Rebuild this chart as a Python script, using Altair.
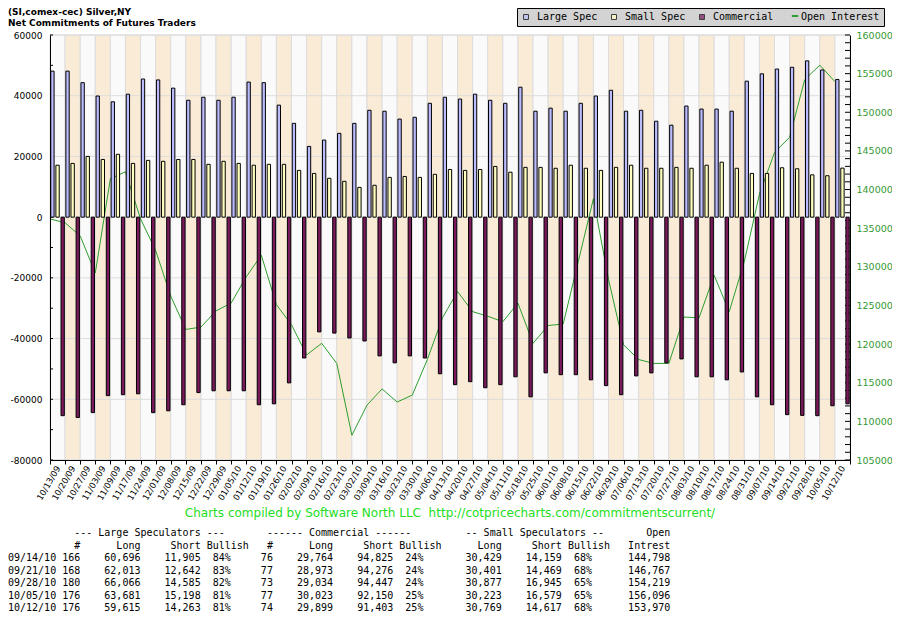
import altair as alt
import pandas as pd

weeks = ["10/13/09", "10/20/09", "10/27/09", "11/03/09", "11/09/09", "11/17/09", "11/24/09",
         "12/01/09", "12/08/09", "12/15/09", "12/22/09", "12/29/09", "01/05/10", "01/12/10",
         "01/19/10", "01/26/10", "02/02/10", "02/09/10", "02/16/10", "02/23/10", "03/02/10",
         "03/09/10", "03/16/10", "03/23/10", "03/30/10", "04/06/10", "04/13/10", "04/20/10",
         "04/27/10", "05/04/10", "05/11/10", "05/18/10", "05/25/10", "06/01/10", "06/08/10",
         "06/15/10", "06/22/10", "06/29/10", "07/06/10", "07/13/10", "07/20/10", "07/27/10",
         "08/03/10", "08/10/10", "08/17/10", "08/24/10", "08/31/10", "09/07/10", "09/14/10",
         "09/21/10", "09/28/10", "10/05/10", "10/12/10"]

large_spec = [48100, 48100, 44300, 39900, 38000, 40500, 45500, 45200, 42500, 38500,
              39500, 38500, 39500, 44500, 44300, 36900, 30900, 23300, 25400, 27600,
              30900, 35200, 34900, 32300, 32900, 37500, 39500, 38900, 40500, 38500,
              37500, 42800, 34900, 35900, 34900, 37500, 39900, 41800, 34900, 35200,
              31600, 30300, 36600, 35600, 35600, 34900, 44800, 47200, 48791, 49371,
              51481, 48483, 45352]

small_spec = [17100, 17700, 20000, 19000, 20700, 17700, 18700, 18400, 19000, 19000,
              17400, 18400, 17700, 17100, 17400, 17400, 15400, 14400, 12800, 11800,
              9800, 10500, 13100, 13400, 13100, 14100, 15700, 15400, 15700, 16700,
              14800, 16400, 16400, 16100, 17100, 16100, 15400, 16400, 17100, 16100,
              16100, 16400, 16100, 17100, 18100, 16100, 14400, 14400, 16270, 15932,
              13932, 13644, 16152]

commercial = [-65400, -66000, -64400, -58800, -58500, -58200, -64400, -63800, -61800, -57800,
              -57200, -57200, -57200, -61800, -61500, -54600, -46400, -37800, -38200, -39800,
              -40800, -45700, -48000, -45700, -46400, -51600, -55200, -54200, -56200, -55200,
              -52600, -59200, -51300, -51900, -51900, -53600, -55500, -58500, -52300, -51300,
              -48000, -46700, -52600, -52600, -53600, -51000, -59200, -61800, -65061, -65303,
              -65413, -62127, -61504]

open_interest = [136200, 135700, 134000, 129200, 141400, 142300, 136200, 132100, 126200, 121900,
                 122200, 124300, 125300, 128700, 131500, 125100, 122500, 118600, 120100, 117500,
                 108200, 112100, 114200, 112500, 113400, 118000, 123400, 126800, 124200, 123600,
                 122900, 125300, 120100, 122400, 122600, 130700, 138800, 128400, 119900, 118000,
                 117500, 117500, 123500, 123400, 128900, 124200, 130700, 139400, 144798, 146767,
                 154219, 156096, 153970]

series_names = ["Large Spec", "Small Spec", "Commercial", "Open Interest"]
series_colors = ["#BBBBFF", "#FFFFC0", "#7A1A5C", "#2E9E2E"]
series_shapes = ["square", "square", "square", "M0,0"]
oi_name = ["Open Interest"]
oi_color = ["#2E9E2E"]

left_labels = [60000, 40000, 20000, 0, -20000, -40000, -60000, -80000]
left_ticks = list(range(-80000, 60001, 10000))
right_labels = list(range(105000, 160001, 5000))
right_ticks = list(range(105000, 160001, 1000))

title_lines = ["(SI,comex-cec) Silver,NY", "Net Commitments of Futures Traders"]
credit = "Charts compiled by Software North LLC  http://cotpricecharts.com/commitmentscurrent/"

tbl_dates = ["09/14/10", "09/21/10", "09/28/10", "10/05/10", "10/12/10"]
ls_n = [166, 168, 180, 176, 176]
ls_long = [60696, 62013, 66066, 63681, 59615]
ls_short = [11905, 12642, 14585, 15198, 14263]
ls_bull = [84, 83, 82, 81, 81]
c_n = [76, 77, 73, 77, 74]
c_long = [29764, 28973, 29034, 30023, 29899]
c_short = [94825, 94276, 94447, 92150, 91403]
c_bull = [24, 24, 24, 25, 25]
s_long = [30429, 30401, 30877, 30223, 30769]
s_short = [14159, 14469, 16945, 16579, 14617]
s_bull = [68, 68, 65, 65, 68]
oi_tbl = [144798, 146767, 154219, 156096, 153970]


def place(items, width=110):
    row = [" "] * width
    for col, s in items:
        for i, ch in enumerate(s):
            row[col + i] = ch
    return "".join(row).rstrip()


table_lines = [
    place([(11, "--- Large Speculators ---"), (43, "------ Commercial ------"),
           (76, "-- Small Speculators --"), (106, "Open")]),
    place([(11, "#"), (18, "Long"), (27, "Short"), (33, "Bullish"), (43, "#"), (50, "Long"),
           (59, "Short"), (65, "Bullish"), (78, "Long"), (87, "Short"), (93, "Bullish"),
           (103, "Intrest")]),
]
for i in range(len(tbl_dates)):
    table_lines.append(
        f"{tbl_dates[i]} {ls_n[i]:>3}    {ls_long[i]:>6,}    {ls_short[i]:>6,}  {str(ls_bull[i]) + '%':>3}"
        f"     {c_n[i]:>2}    {c_long[i]:>6,}    {c_short[i]:>6,}  {str(c_bull[i]) + '%':>3}"
        f"       {s_long[i]:>6,}    {s_short[i]:>6,}  {str(s_bull[i]) + '%':>3}      {oi_tbl[i]:>7,}"
    )
# keep spacing: non-breaking spaces, and a zero-width lead so leading blanks survive trimming
table_lines = ["\u200b" + t.replace(" ", "\u00a0") for t in table_lines]

W, H = 800, 425

bars_df = pd.DataFrame({
    "week": weeks * 3,
    "series": ["Large Spec"] * len(weeks) + ["Small Spec"] * len(weeks) + ["Commercial"] * len(weeks),
    "value": large_spec + small_spec + commercial,
})
oi_df = pd.DataFrame({"week": weeks, "oi": open_interest, "name": oi_name * len(weeks)})
bg_df = pd.DataFrame({"week": weeks, "band": ["even" if i % 2 == 0 else "odd" for i in range(len(weeks))]})
one = pd.DataFrame({"k": [0]})

x_scale = alt.Scale(paddingInner=0, paddingOuter=0)
x_axis = alt.Axis(title=None, labelAngle=-60, labelFont="DejaVu Sans", labelFontSize=8.5,
                  labelColor="black", tickBand="extent", tickSize=4, tickColor="black",
                  domainColor="black", labelPadding=2, grid=False, labelOverlap=False, zindex=1)
left_scale = alt.Scale(domain=[-80000, 60000], nice=False, zero=False)
right_scale = alt.Scale(domain=[105000, 160000], nice=False, zero=False)


def xenc(**kw):
    return alt.X("week:N", sort=weeks, scale=x_scale, axis=x_axis, **kw)


main_legend = alt.Legend(title=None, orient="none", legendX=467, legendY=-27,
                         direction="horizontal", fillColor="#D3D3D3", strokeColor="black",
                         padding=4, symbolSize=25, symbolStrokeColor="black", symbolStrokeWidth=1,
                         labelFont="DejaVu Sans Mono", labelFontSize=10, labelColor="black",
                         labelOffset=6, columnPadding=11, zindex=1)
color_enc = alt.Color("series:N", scale=alt.Scale(domain=series_names, range=series_colors),
                      legend=main_legend)

bg = alt.Chart(bg_df).mark_rect(stroke="#DCDCDC", strokeWidth=1).encode(
    x=xenc(),
    y=alt.value(0),
    y2=alt.value(H),
    fill=alt.Fill("band:N", scale=alt.Scale(domain=["even", "odd"], range=["#FAFAFA", "#FAEBD7"]), legend=None),
)

grid = alt.Chart(pd.DataFrame({"v": left_labels})).mark_rule(color="#DCDCDC", strokeWidth=1).encode(
    y=alt.Y("v:Q", scale=left_scale,
            axis=alt.Axis(orient="left", values=left_labels, title=None, grid=False, ticks=False,
                          tickSize=0, labelFont="DejaVu Sans", labelFontSize=9, labelColor="black",
                          labelPadding=8, domainColor="black", labelExpr="datum.value + ''", zindex=1)),
)

lticks = alt.Chart(pd.DataFrame({"v": left_ticks})).mark_rule(color="black", strokeWidth=1).encode(
    y=alt.Y("v:Q", scale=left_scale, axis=None),
    x=alt.value(0),
    x2=alt.value(3),
)

line = alt.Chart(oi_df).mark_line(strokeWidth=1).encode(
    x=xenc(bandPosition=0),
    y=alt.Y("oi:Q", scale=right_scale,
            axis=alt.Axis(orient="right", values=right_labels, title=None, grid=False, ticks=False,
                          tickSize=0, labelFont="DejaVu Sans", labelFontSize=9.5, labelColor="#339933",
                          labelPadding=6, domainColor="black", labelExpr="datum.value + ''", zindex=1)),
    stroke=alt.Stroke("name:N", scale=alt.Scale(domain=oi_name, range=oi_color),
                      legend=alt.Legend(title=None, orient="none", legendX=740, legendY=-24,
                                        symbolType="stroke", symbolStrokeWidth=2, symbolSize=40,
                                        labelExpr="''", padding=0, labelOffset=0, zindex=3)),
)

rticks = alt.Chart(pd.DataFrame({"v": right_ticks})).mark_rule(color="black", strokeWidth=1).encode(
    y=alt.Y("v:Q", scale=right_scale, axis=None),
    x=alt.value(W - 5),
    x2=alt.value(W),
)

bars = alt.Chart(bars_df).mark_bar(stroke="black", strokeWidth=1).encode(
    x=xenc(),
    xOffset=alt.XOffset("series:N", scale=alt.Scale(domain=series_names[:3], paddingInner=0.35, paddingOuter=0.15)),
    y=alt.Y("value:Q", scale=left_scale, axis=None, stack=False),
    color=color_enc,
)

legend_shapes = alt.Chart(bars_df).transform_filter("false").mark_point(filled=True).encode(
    color=color_enc,
    shape=alt.Shape("series:N", scale=alt.Scale(domain=series_names, range=series_shapes),
                    legend=main_legend),
)

title = alt.Chart(one).mark_text(align="left", baseline="top", font="DejaVu Sans", fontSize=9,
                                 fontWeight="bold", lineHeight=11, color="black").encode(
    x=alt.value(-42), y=alt.value(-27), text=alt.value(title_lines))

credit_t = alt.Chart(one).mark_text(align="center", baseline="middle", font="DejaVu Sans", fontSize=12,
                                    color="#22DD22").encode(
    x=alt.value(400), y=alt.value(478), text=alt.value(credit.replace(" ", "\u00a0")))

table = alt.Chart(one).mark_text(align="left", baseline="top", font="DejaVu Sans Mono", fontSize=10,
                                 lineHeight=12.5, color="black").encode(
    x=alt.value(-42), y=alt.value(493), text=alt.value(table_lines))

chart = alt.layer(bg, grid, lticks, line, rticks, bars, legend_shapes, title, credit_t, table).resolve_scale(
    y="independent"
).properties(
    width=W, height=H,
    padding={"left": 42, "top": 27, "right": 42, "bottom": 152},
    autosize=alt.AutoSizeParams(type="none"),
).configure_view(stroke="transparent")

chart.save("out.html", embed_options={"renderer": "svg", "actions": False})
